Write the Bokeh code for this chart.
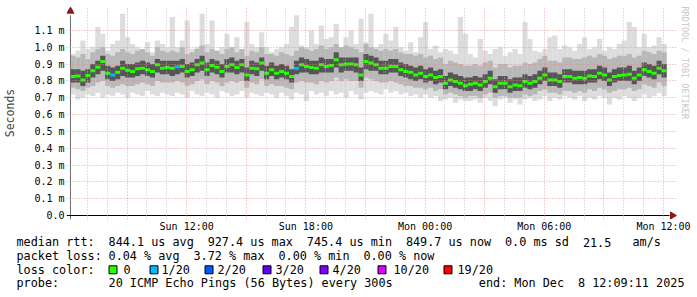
import math
from bokeh.plotting import figure
from bokeh.models import (Range1d, FixedTicker, CustomJSTickFormatter, Title, ColumnDataSource)
from bokeh.layouts import column
from bokeh.embed import file_html
from bokeh.resources import INLINE
from bokeh.core.properties import value

# ---------------- data (milliseconds) ----------------
START_H = 6 + 9 / 60 + 11 / 3600   # Sun 06:09:11, hours since Sun 00:00
STEP_H = 0.25                      # one column = 15 minutes
WINDOW_H = 30.0

med = [
 0.826,0.830,0.806,0.832,0.860,0.882,0.916,0.846,0.836,0.852,0.876,0.864,0.856,0.872,0.876,0.866,0.856,0.896,0.876,0.880,
 0.876,0.884,0.886,0.856,0.866,0.896,0.906,0.866,0.892,0.882,0.856,0.886,0.896,0.880,0.896,0.836,0.876,0.872,0.906,0.846,
 0.866,0.846,0.856,0.846,0.826,0.876,0.896,0.886,0.880,0.876,0.896,0.886,0.892,0.926,0.896,0.900,0.900,0.896,0.836,0.916,
 0.906,0.896,0.876,0.876,0.886,0.886,0.866,0.856,0.852,0.836,0.846,0.826,0.836,0.820,0.826,0.786,0.806,0.796,0.786,0.772,
 0.780,0.786,0.776,0.796,0.816,0.766,0.786,0.786,0.766,0.776,0.772,0.796,0.786,0.796,0.816,0.836,0.806,0.806,0.796,0.826,
 0.826,0.816,0.820,0.816,0.830,0.826,0.846,0.836,0.806,0.826,0.832,0.836,0.840,0.816,0.836,0.866,0.856,0.846,0.876,0.860,
]
loss = [
 0,0,0,0,0,0,0,0,1,0,0,0,0,0,0,0,0,0,0,0,
 0,1,0,0,0,0,0,0,0,0,0,0,0,0,0,0,0,0,0,0,
 0,0,0,0,0,1,0,0,0,0,0,0,0,0,0,0,0,0,0,0,
 0,0,0,0,0,0,0,0,0,0,0,0,0,0,0,0,0,0,0,0,
 0,0,0,0,0,0,0,0,0,0,0,0,0,0,0,0,0,0,0,0,
 0,0,0,0,0,0,0,0,0,0,0,0,0,0,0,0,0,0,0,0,
]
ping_max = [
 0.96,0.98,1.04,0.99,1.00,1.12,1.08,0.98,1.02,1.04,1.20,1.06,1.02,1.00,0.99,1.03,0.97,1.04,1.02,1.00,
 1.18,1.00,1.04,1.16,0.99,1.00,1.20,1.02,1.16,0.98,1.00,1.08,0.99,1.06,0.98,1.15,1.02,1.00,1.09,1.00,
 0.97,0.99,1.00,1.02,1.12,1.19,1.01,1.00,1.10,1.02,1.13,1.05,1.06,1.14,1.00,1.06,1.10,1.02,1.17,1.03,
 1.20,1.00,1.02,1.08,1.04,1.12,1.00,0.98,1.03,0.97,1.06,1.15,0.99,1.01,0.97,0.99,0.98,0.96,1.18,1.08,
 0.96,0.94,1.05,0.98,0.96,0.99,1.00,0.95,0.97,0.99,0.96,1.15,1.05,0.98,0.97,0.99,1.06,1.07,0.99,1.01,
 1.00,0.98,1.02,1.06,0.99,1.00,1.05,0.98,1.00,0.99,1.02,1.04,1.15,1.12,1.00,1.08,1.00,1.01,1.06,1.02,
]
ping_min = [
 0.72,0.69,0.70,0.72,0.71,0.73,0.70,0.72,0.71,0.73,0.72,0.70,0.73,0.72,0.71,0.74,0.72,0.71,0.73,0.72,
 0.71,0.73,0.72,0.70,0.74,0.72,0.71,0.73,0.72,0.70,0.74,0.73,0.71,0.72,0.74,0.70,0.73,0.72,0.71,0.73,
 0.72,0.70,0.73,0.71,0.69,0.73,0.72,0.68,0.74,0.72,0.73,0.71,0.74,0.72,0.73,0.70,0.74,0.72,0.69,0.73,
 0.74,0.73,0.72,0.75,0.73,0.74,0.72,0.73,0.71,0.72,0.70,0.72,0.70,0.71,0.68,0.69,0.70,0.67,0.69,0.68,
 0.68,0.69,0.67,0.70,0.68,0.65,0.69,0.70,0.67,0.69,0.66,0.69,0.70,0.68,0.69,0.71,0.68,0.70,0.69,0.71,
 0.70,0.69,0.71,0.68,0.70,0.69,0.71,0.70,0.66,0.70,0.69,0.71,0.70,0.68,0.70,0.72,0.70,0.71,0.73,0.71,
]
mid_hi = [
 0.95,0.94,0.96,0.93,0.97,0.99,1.00,0.96,0.95,0.97,0.99,0.97,0.96,0.98,0.99,0.97,0.95,1.00,0.98,0.97,
 0.98,0.97,1.00,0.96,0.97,0.99,1.01,0.97,0.99,0.98,0.96,0.99,1.00,0.97,0.99,0.95,0.98,0.97,1.00,0.96,
 0.96,0.95,0.97,0.96,0.95,0.98,1.00,0.99,0.98,0.99,1.01,0.99,1.00,1.02,1.00,1.01,1.00,0.99,0.97,1.02,
 1.00,0.99,0.98,0.99,0.98,0.99,0.97,0.96,0.96,0.95,0.96,0.94,0.95,0.93,0.94,0.90,0.92,0.91,0.90,0.89,
 0.89,0.90,0.89,0.91,0.92,0.88,0.90,0.90,0.88,0.89,0.89,0.91,0.90,0.91,0.93,0.95,0.92,0.92,0.91,0.94,
 0.94,0.93,0.93,0.94,0.95,0.94,0.96,0.95,0.93,0.94,0.95,0.95,0.96,0.94,0.95,0.98,0.97,0.96,0.98,0.97,
]
mid_lo = [
 0.76,0.75,0.74,0.76,0.77,0.79,0.80,0.77,0.76,0.77,0.78,0.77,0.77,0.78,0.79,0.78,0.77,0.80,0.79,0.79,
 0.79,0.80,0.79,0.77,0.78,0.80,0.81,0.78,0.80,0.79,0.77,0.79,0.80,0.79,0.80,0.76,0.79,0.78,0.81,0.77,
 0.78,0.77,0.77,0.76,0.75,0.79,0.80,0.79,0.79,0.78,0.80,0.79,0.80,0.82,0.80,0.81,0.80,0.80,0.76,0.82,
 0.81,0.80,0.79,0.79,0.80,0.79,0.78,0.77,0.77,0.76,0.76,0.75,0.76,0.74,0.75,0.72,0.73,0.72,0.71,0.70,
 0.71,0.71,0.70,0.72,0.73,0.70,0.71,0.71,0.70,0.70,0.70,0.72,0.71,0.72,0.74,0.75,0.73,0.73,0.72,0.74,
 0.74,0.73,0.74,0.73,0.75,0.74,0.76,0.75,0.73,0.74,0.75,0.75,0.76,0.74,0.75,0.78,0.77,0.76,0.79,0.77,
]
core_hi = [
 0.87,0.87,0.86,0.87,0.90,0.92,0.95,0.89,0.88,0.89,0.92,0.90,0.90,0.91,0.92,0.91,0.90,0.93,0.92,0.92,
 0.92,0.92,0.93,0.90,0.91,0.93,0.95,0.91,0.93,0.92,0.90,0.93,0.94,0.92,0.93,0.88,0.92,0.91,0.94,0.89,
 0.91,0.89,0.90,0.89,0.87,0.92,0.94,0.93,0.92,0.92,0.94,0.93,0.93,0.97,0.94,0.94,0.94,0.94,0.88,0.96,
 0.95,0.94,0.92,0.92,0.93,0.93,0.91,0.90,0.89,0.88,0.89,0.87,0.88,0.86,0.87,0.83,0.85,0.84,0.83,0.82,
 0.82,0.83,0.82,0.84,0.86,0.81,0.83,0.83,0.81,0.82,0.82,0.84,0.83,0.84,0.86,0.88,0.85,0.85,0.84,0.87,
 0.87,0.86,0.86,0.86,0.87,0.87,0.89,0.88,0.85,0.87,0.88,0.88,0.89,0.86,0.88,0.91,0.90,0.89,0.92,0.90,
]
core_lo = [
 0.79,0.79,0.77,0.79,0.82,0.84,0.86,0.81,0.80,0.81,0.83,0.82,0.82,0.83,0.84,0.83,0.82,0.85,0.84,0.84,
 0.83,0.84,0.85,0.82,0.83,0.85,0.86,0.83,0.85,0.84,0.82,0.85,0.85,0.84,0.85,0.80,0.84,0.83,0.86,0.81,
 0.83,0.81,0.82,0.81,0.79,0.84,0.85,0.85,0.84,0.84,0.85,0.85,0.85,0.88,0.85,0.86,0.86,0.85,0.80,0.87,
 0.86,0.86,0.84,0.84,0.85,0.85,0.83,0.82,0.81,0.80,0.81,0.79,0.80,0.78,0.79,0.75,0.77,0.76,0.75,0.74,
 0.74,0.75,0.74,0.76,0.78,0.73,0.75,0.75,0.73,0.74,0.74,0.76,0.75,0.76,0.78,0.80,0.77,0.77,0.76,0.79,
 0.79,0.78,0.78,0.78,0.79,0.79,0.81,0.80,0.77,0.79,0.80,0.80,0.80,0.78,0.80,0.83,0.82,0.81,0.84,0.82,
]

y_ticks = [0.0, 0.1, 0.2, 0.3, 0.4, 0.5, 0.6, 0.7, 0.8, 0.9, 1.0, 1.1]
x_label_hours = [12, 18, 24, 30, 36]
x_labels = ["Sun 12:00", "Sun 18:00", "Mon 00:00", "Mon 06:00", "Mon 12:00"]

loss_keys = [0, 1, 2, 3, 4, 10, 19]
loss_names = ["0", "1/20", "2/20", "3/20", "4/20", "10/20", "19/20"]
loss_cols = ["#26ff00", "#00b8ff", "#0059ff", "#5e00ff", "#7e00ff", "#dd00ff", "#ff0000"]

stats_rows = [
    [(0, "median rtt:"), (13, "844.1 us avg"), (27, "927.4 us max"), (41, "745.4 us min"),
     (55, "849.7 us now"), (69, "0.0 ms sd"), (80, "21.5"), (87, "am/s")],
    [(0, "packet loss:"), (13, "0.04 % avg"), (25, "3.72 % max"), (37, "0.00 % min"), (49, "0.00 % now")],
    [(0, "loss color:")],
    [(0, "probe:"), (13, "20 ICMP Echo Pings (56 Bytes) every 300s"),
     (65.3, "end: Mon Dec"), (79.3, "8 12:09:11 2025")],
]

# ---------------- main graph ----------------
MONO = "DejaVu Sans Mono"
PX_PER_H = 20.0          # 600 px for 30 h
PX_PER_MS = 168.2        # 16.82 px per 0.1 ms
TOP_H = 234
# frame is a little larger than the graph area so that the axis arrows fit inside it
X_LO = START_H - 4 / PX_PER_H
X_HI = START_H + WINDOW_H + 10 / PX_PER_H
Y_LO = -4 / PX_PER_MS
Y_HI = 209 / PX_PER_MS

n = len(med)
t = [START_H + STEP_H * (i + 0.5) for i in range(n)]
col_map = dict(zip(loss_keys, loss_cols))
src = ColumnDataSource(dict(t=t, med=med, mx=ping_max, mn=ping_min, mh=mid_hi, ml=mid_lo,
                            ch=core_hi, cl=core_lo, c=[col_map[v] for v in loss]))

p = figure(width=697, height=TOP_H, output_backend="svg", toolbar_location=None,
           x_range=Range1d(X_LO, X_HI), y_range=Range1d(Y_LO, Y_HI),
           min_border_left=62, min_border_right=21, min_border_top=6, min_border_bottom=TOP_H - 219)
p.frame_align = False
p.outline_line_color = None
p.background_fill_color = "white"
p.border_fill_color = "white"

bw = STEP_H * 1.04
p.vbar(x="t", width=bw, bottom="mn", top="mx", source=src, fill_color="#dddddd", line_color=None)
p.vbar(x="t", width=bw, bottom="ml", top="mh", source=src, fill_color="#b8b8b8", line_color=None)
p.vbar(x="t", width=bw, bottom="cl", top="ch", source=src, fill_color="#555555", line_color=None)
p.rect(x="t", y="med", width=STEP_H, height=3, height_units="screen", source=src,
       fill_color="c", line_color=None)

# axes: tick labels from Bokeh's axes, axis rules drawn at the graph origin
p.yaxis.ticker = FixedTicker(ticks=y_ticks)
p.yaxis.formatter = CustomJSTickFormatter(code="return Math.abs(tick) < 0.05 ? '0.0' : tick.toFixed(1) + ' m';")
p.yaxis.axis_label = "Seconds"
p.yaxis.axis_label_text_font = MONO
p.yaxis.axis_label_text_font_size = "11.5px"
p.yaxis.axis_label_text_font_style = "normal"
p.yaxis.axis_label_standoff = 14
p.yaxis.major_label_standoff = 2

p.xaxis.ticker = FixedTicker(ticks=x_label_hours)
p.xaxis.major_label_overrides = dict(zip(x_label_hours, x_labels))
p.xaxis.major_label_standoff = 1

for ax in (p.xaxis, p.yaxis):
    ax.axis_line_color = None
    ax.major_label_text_font = MONO
    ax.major_label_text_font_size = "10px"
    ax.major_label_text_color = "black"
    ax.major_tick_out = 0
    ax.major_tick_in = 0
    ax.minor_tick_out = 0
    ax.minor_tick_in = 0

p.ygrid.ticker = FixedTicker(ticks=y_ticks[1:])
p.ygrid.grid_line_color = "#ee8888"
p.ygrid.grid_line_alpha = 0.8
p.ygrid.grid_line_dash = "1 2"
p.ygrid.level = "annotation"
major_h = [9, 12, 15, 18, 21, 24, 27, 30, 33, 36]
minor_h = [h for h in range(7, 37) if h not in major_h]
p.xgrid.ticker = FixedTicker(ticks=major_h, minor_ticks=minor_h)
p.xgrid.grid_line_color = "#ee8888"
p.xgrid.grid_line_alpha = 0.8
p.xgrid.grid_line_dash = "1 2"
p.xgrid.minor_grid_line_color = "#c4c4c4"
p.xgrid.minor_grid_line_dash = "1 2"
p.xgrid.level = "annotation"

# axis rules and arrow heads
p.segment(x0=[START_H], y0=[Y_LO], x1=[START_H], y1=[1.19], line_color="#6e6e6e", line_width=1)
p.segment(x0=[X_LO], y0=[0], x1=[START_H + WINDOW_H + 3 / PX_PER_H], y1=[0],
          line_color="black", line_width=1)
p.scatter(x=[START_H], y=[1.215], marker="triangle", size=7,
          fill_color="#8b1a1a", line_color="#8b1a1a")
p.scatter(x=[START_H + WINDOW_H + 6 / PX_PER_H], y=[0], marker="triangle", size=7,
          angle=-math.pi / 2, fill_color="#8b1a1a", line_color="#8b1a1a")

wm = Title(text="RRDTOOL / TOBI OETIKER", align="left", text_font=MONO, text_font_size="8.5px",
           text_color="#c8c8c8", text_font_style="normal", standoff=6)
p.add_layout(wm, "right")

# ---------------- statistics / legend block below the graph ----------------
BOT_H = 297 - TOP_H
q = figure(width=697, height=BOT_H, output_backend="svg", toolbar_location=None,
           x_axis_type=None, y_axis_type=None,
           x_range=Range1d(0, 697), y_range=Range1d(BOT_H, 0),
           min_border=0, min_border_left=0, min_border_right=0, min_border_top=0, min_border_bottom=0)
q.frame_align = False
q.grid.visible = False
q.outline_line_color = None

CW = 7.08
X0 = 16
rows_y = [241.7 - TOP_H, 255.3 - TOP_H, 269.3 - TOP_H, 282.8 - TOP_H]
txt_x, txt_y, txt = [], [], []
for row, items in enumerate(stats_rows):
    for col, s in items:
        txt_x.append(X0 + col * CW); txt_y.append(rows_y[row]); txt.append(s)

box_x = [108, 149, 204, 262, 319, 377, 443]
lab_x = [123, 161, 217, 275, 332, 393, 457]
for lx, name in zip(lab_x, loss_names):
    txt_x.append(lx); txt_y.append(rows_y[2]); txt.append(name)

q.text(x=txt_x, y=txt_y, text=txt, text_font=value(MONO), text_font_size="11.8px",
       text_baseline="middle", text_align="left", text_color="black")
q.rect(x=[b + 4.5 for b in box_x], y=[rows_y[2]] * len(box_x), width=8, height=8,
       fill_color=loss_cols, line_color="black", line_width=1)

layout = column(p, q, spacing=0)
open("out.html", "w").write(file_html(layout, INLINE))
